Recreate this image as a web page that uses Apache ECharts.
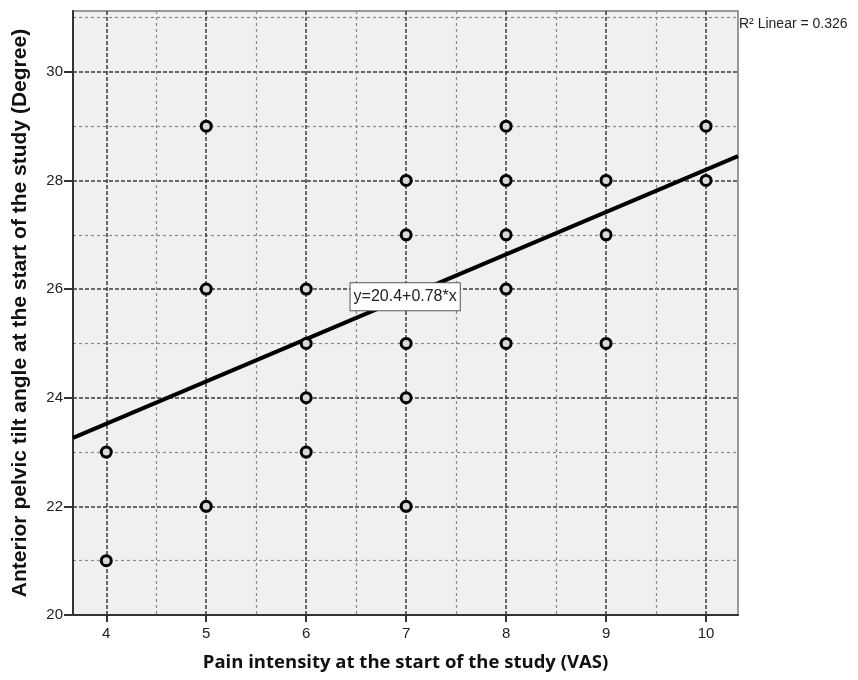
<!DOCTYPE html>
<html><head><meta charset="utf-8">
<script src="https://cdn.jsdelivr.net/npm/echarts@6/dist/echarts.min.js"></script>
<style>html,body{margin:0;padding:0;background:#fff}#c{width:858px;height:680px}</style>
</head><body><div id="c"></div>
<script>
// ---- data ----
const painVAS = [4, 4, 5, 5, 5, 6, 6, 6, 6, 7, 7, 7, 7, 7, 8, 8, 8, 8, 8, 9, 9, 9, 10, 10];
const tiltDeg = [23, 21, 29, 26, 22, 26, 25, 24, 23, 28, 27, 25, 24, 22, 29, 28, 27, 26, 25, 28, 27, 25, 29, 28];
const xMajorTicks = [4, 5, 6, 7, 8, 9, 10];
const xMinorTicks = [4.5, 5.5, 6.5, 7.5, 8.5, 9.5];
const yMajorTicks = [20, 22, 24, 26, 28, 30];
const yMinorTicks = [21, 23, 25, 27, 29, 31];
const fitIntercept = 20.4;
const fitSlope = 0.78;
const fitLabel = 'y=20.4+0.78*x';
const fitLabelAt = [6.99, 25.86];
const r2Text = 'R\u00B2 Linear = 0.326';
const xTitle = 'Pain intensity at the start of the study (VAS)';
const yTitle = 'Anterior pelvic tilt angle at the start of the study (Degree)';
const xMin = 3.667, xMax = 10.32, yMin = 20, yMax = 31.12;

const points = painVAS.map((v, i) => [v, tiltDeg[i]]);
const fitLine = [[xMin, fitIntercept + fitSlope * xMin], [xMax, fitIntercept + fitSlope * xMax]];

const FONT = '"Liberation Sans", Arial, sans-serif';
const majorSplit = {show: true, showMinLine: true, showMaxLine: true,
  lineStyle: {color: '#3a3a3a', width: 1.5, type: [4, 2]}};
const minorSplit = {show: true, showMinLine: true, showMaxLine: true,
  lineStyle: {color: '#8a8a8a', width: 1.2, type: [3, 3]}};

const chart = echarts.init(document.getElementById('c'), null, {renderer: 'canvas'});
chart.setOption({
  animation: false,
  backgroundColor: '#ffffff',
  grid: {left: 73, right: 120, top: 11, bottom: 65, show: true,
    backgroundColor: '#f0f0f0', borderColor: '#7a7a7a', borderWidth: 1.5},
  xAxis: [{
    type: 'value', min: xMin, max: xMax, position: 'bottom',
    axisLine: {show: true, onZero: false, lineStyle: {color: '#333', width: 2}},
    axisTick: {show: true, length: 7, customValues: xMajorTicks, lineStyle: {color: '#333', width: 2}},
    axisLabel: {customValues: xMajorTicks, fontSize: 15, color: '#222', fontFamily: FONT, margin: 11},
    splitLine: majorSplit,
    name: xTitle, nameLocation: 'middle', nameGap: 38,
    nameTextStyle: {fontSize: 18.5, fontWeight: 'bold', color: '#111', fontFamily: '"Open Sans", sans-serif'}
  }, {
    type: 'value', min: xMin, max: xMax, position: 'bottom',
    axisLine: {show: false}, axisTick: {show: false, customValues: xMinorTicks},
    axisLabel: {show: false, customValues: xMinorTicks},
    splitLine: minorSplit
  }],
  yAxis: [{
    type: 'value', min: yMin, max: yMax, position: 'left',
    axisLine: {show: true, onZero: false, lineStyle: {color: '#333', width: 2}},
    axisTick: {show: true, length: 9, customValues: yMajorTicks, lineStyle: {color: '#333', width: 2}},
    axisLabel: {customValues: yMajorTicks, fontSize: 15, color: '#222', fontFamily: FONT, margin: 10},
    splitLine: majorSplit,
    name: yTitle, nameLocation: 'middle', nameGap: 42,
    nameTextStyle: {fontSize: 21, fontWeight: 'bold', color: '#111', fontFamily: FONT}
  }, {
    type: 'value', min: yMin, max: yMax, position: 'left',
    axisLine: {show: false}, axisTick: {show: false, customValues: yMinorTicks},
    axisLabel: {show: false, customValues: yMinorTicks},
    splitLine: minorSplit
  }],
  series: [{
    type: 'line', data: fitLine, xAxisIndex: 0, yAxisIndex: 0,
    showSymbol: false, symbol: 'none', z: 3,
    lineStyle: {color: '#000', width: 4},
    markPoint: {
      symbol: 'rect', symbolSize: 1, itemStyle: {color: 'rgba(0,0,0,0)'},
      data: [{coord: fitLabelAt}],
      label: {show: true, position: 'inside', formatter: fitLabel, fontSize: 16, color: '#222',
        fontFamily: FONT, backgroundColor: '#fff', borderColor: '#555', borderWidth: 1,
        padding: [6, 3, 5, 3]}
    }
  }, {
    type: 'scatter', data: points, xAxisIndex: 0, yAxisIndex: 0, z: 4,
    symbol: 'circle', symbolSize: 10,
    itemStyle: {color: '#d8d8d8', borderColor: '#000', borderWidth: 3, opacity: 1}
  }],
  graphic: [{
    type: 'text', left: 739, top: 17,
    style: {text: r2Text, font: '14px "Liberation Sans", Arial, sans-serif', fill: '#222'}
  }]
});
</script></body></html>
